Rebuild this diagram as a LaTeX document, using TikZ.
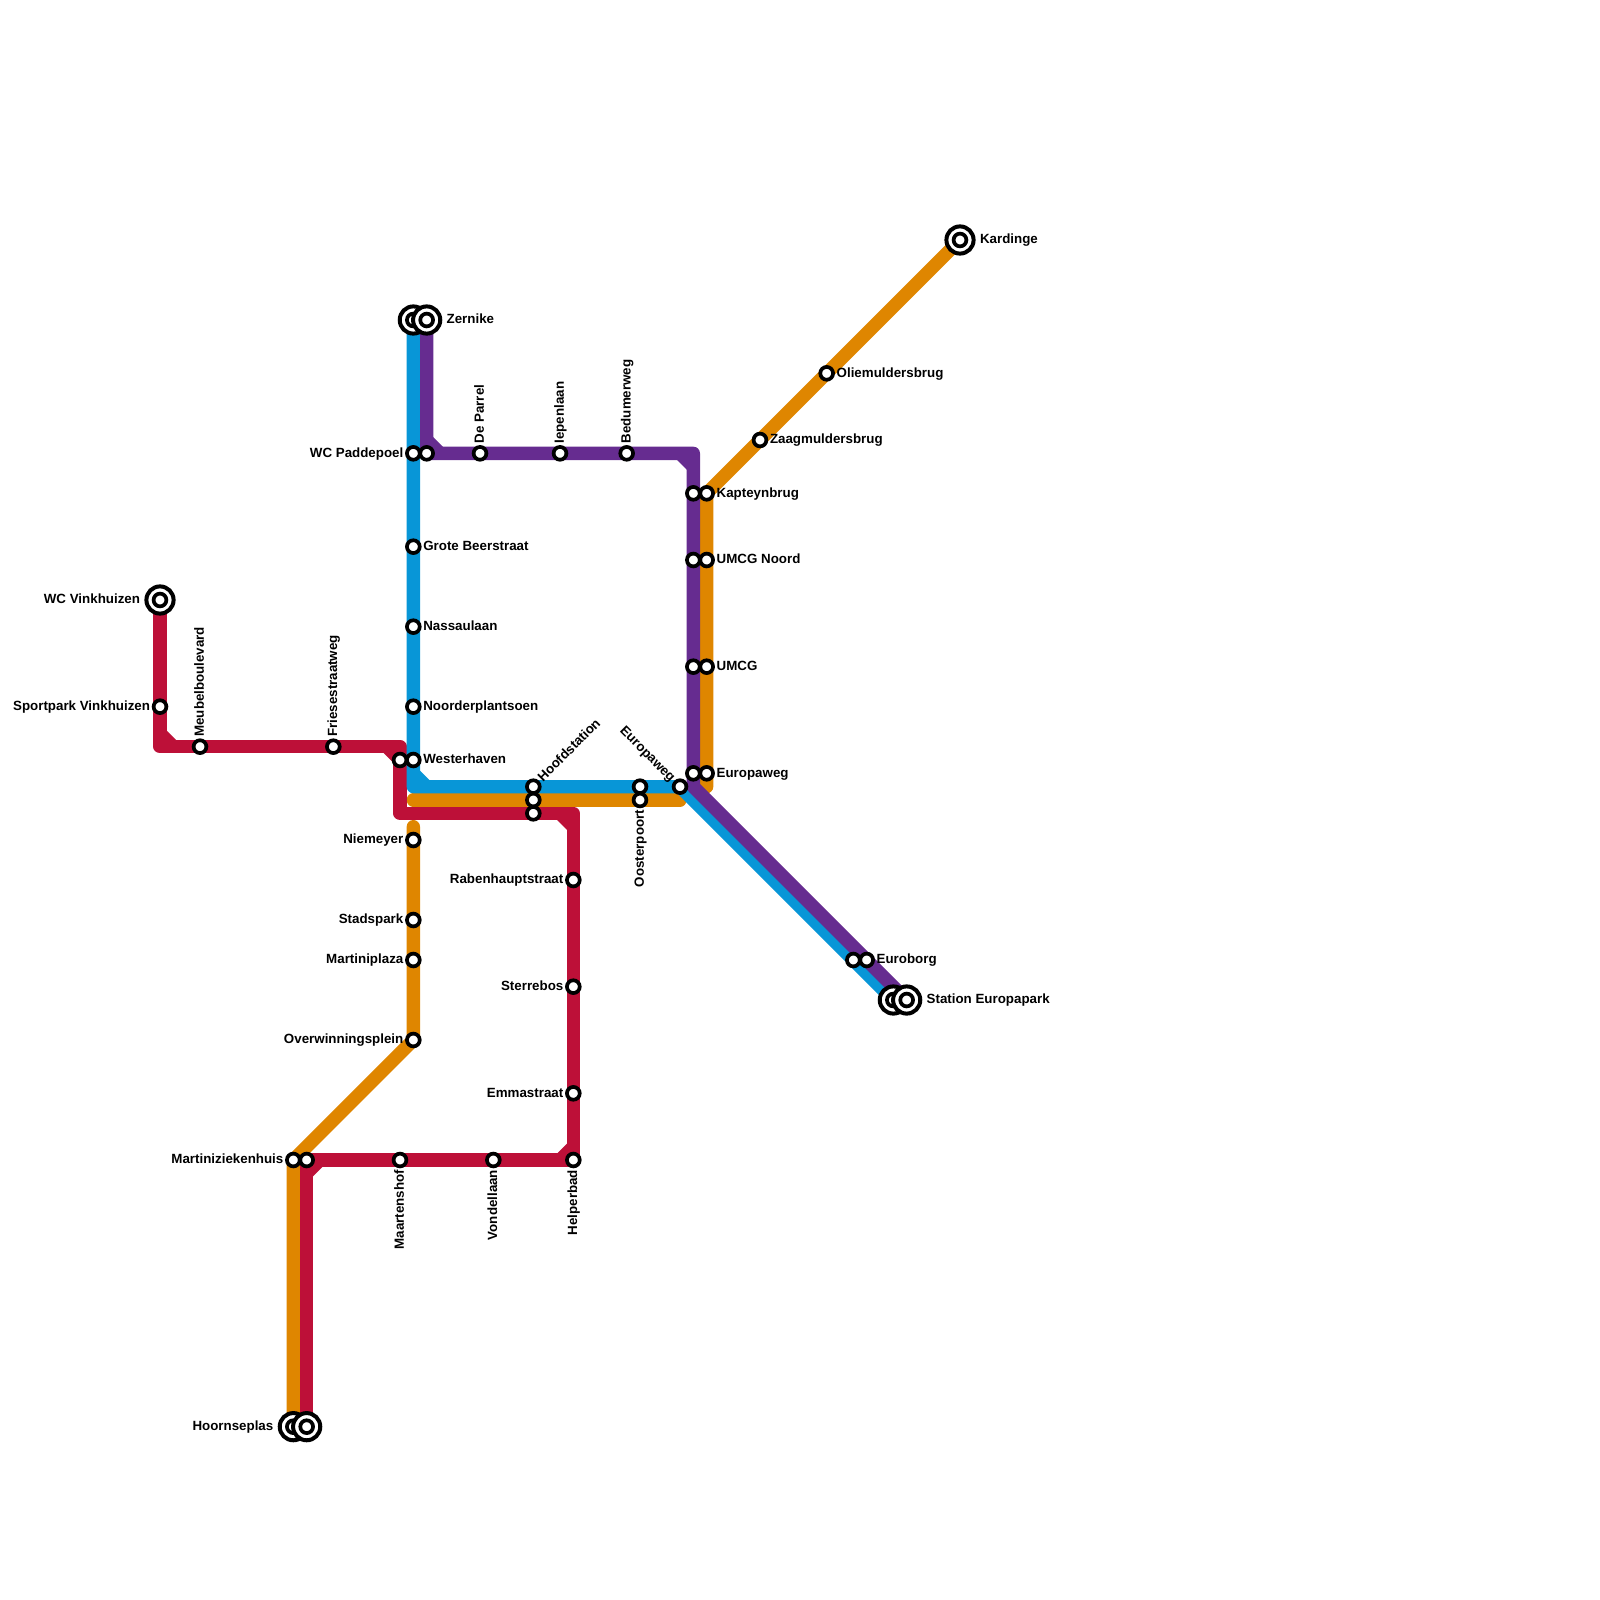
\documentclass[tikz,border=0pt]{standalone}
\usepackage{fontspec}
\setmainfont{Liberation Sans}
\definecolor{lblue}{HTML}{0896D7}
\definecolor{lpurple}{HTML}{662C90}
\definecolor{lorange}{HTML}{DF8600}
\definecolor{lred}{HTML}{BD1038}
\pgfdeclarelayer{lines}
\pgfsetlayers{lines,main}
\tikzset{
  stn/.style={circle,draw=black,fill=white,line width=1.85pt,minimum size=6.4pt,inner sep=0pt,outer sep=0pt},
  ring/.style={circle,draw=black,fill=white,line width=2pt,minimum size=13.6pt,inner sep=0pt,outer sep=0pt},
  lab/.style={inner sep=0pt,outer sep=0pt,font=\bfseries\fontsize{6.67pt}{8pt}\selectfont,text height=3.9pt,text depth=0pt,text=black},
  metro/.style={line width=6.667pt,line cap=round,line join=round},
  chamfer/.style={line width=6.667pt,line cap=butt}
}
\newcommand{\st}[3]{\node[stn] (#1) at (#2,#3) {};}
\newcommand{\term}[3]{\node[ring] (#1-r) at (#2,#3) {};\node[stn] (#1) at (#2,#3) {};}
\newcommand{\lE}[3][5pt]{\node[lab,anchor=west] (#2-l) at ([xshift=#1]#2.center) {#3};}
\newcommand{\lW}[3][5pt]{\node[lab,anchor=east] (#2-l) at ([xshift=-#1]#2.center) {#3};}
\newcommand{\lN}[2]{\node[lab,anchor=west,rotate=90] (#1-l) at ([yshift=5pt]#1.center) {#2};}
\newcommand{\lS}[2]{\node[lab,anchor=east,rotate=90] (#1-l) at ([yshift=-5pt]#1.center) {#2};}
\begin{document}
\begin{tikzpicture}[x=0.5pt,y=-0.5pt]
\useasboundingbox (0,0) rectangle (1600,1600);
% stations: red
\term{vink}{160}{600}\lW[10pt]{vink}{WC Vinkhuizen}
\st{sport}{160}{706.67}\lW{sport}{Sportpark Vinkhuizen}
\st{meubel}{200}{746.67}\lN{meubel}{Meubelboulevard}
\st{fries}{333.33}{746.67}\lN{fries}{Friesestraatweg}
\st{westR}{400}{760}
\st{hoofdR}{533.33}{813.33}
\st{raben}{573.33}{880}\lW{raben}{Rabenhauptstraat}
\st{sterre}{573.33}{986.67}\lW{sterre}{Sterrebos}
\st{emma}{573.33}{1093.33}\lW{emma}{Emmastraat}
\st{helper}{573.33}{1160}\lS{helper}{Helperbad}
\st{vondel}{493.33}{1160}\lS{vondel}{Vondellaan}
\st{maarten}{400}{1160}\lS{maarten}{Maartenshof}
\st{mzhR}{306.67}{1160}
% stations: blue
\term{zernB}{413.33}{320}
\st{paddeB}{413.33}{453.33}\lW{paddeB}{WC Paddepoel}
\st{grote}{413.33}{546.67}\lE{grote}{Grote Beerstraat}
\st{nassau}{413.33}{626.67}\lE{nassau}{Nassaulaan}
\st{noorder}{413.33}{706.67}\lE{noorder}{Noorderplantsoen}
\st{westB}{413.33}{760}\lE{westB}{Westerhaven}
\st{hoofdB}{533.33}{786.67}
\node[lab,anchor=west,rotate=45] (hoofdB-l) at ([xshift=3.5pt,yshift=3.5pt]hoofdB.center) {Hoofdstation};
\st{oostB}{640}{786.67}
\st{eurB}{680}{786.67}
\node[lab,anchor=east,rotate=-45] (eurB-l) at ([xshift=-3.5pt,yshift=3.5pt]eurB.center) {Europaweg};
\st{euroB}{853.33}{960}
\term{parkB}{893.33}{1000}
% stations: purple
\term{zernP}{426.67}{320}\lE[10pt]{zernP}{Zernike}
\st{paddeP}{426.67}{453.33}
\st{parrel}{480}{453.33}\lN{parrel}{De Parrel}
\st{iepen}{560}{453.33}\lN{iepen}{Iepenlaan}
\st{bedum}{626.67}{453.33}\lN{bedum}{Bedumerweg}
\st{kapP}{693.33}{493.33}
\st{umcgnP}{693.33}{560}
\st{umcgP}{693.33}{666.67}
\st{eurP}{693.33}{773.33}
\st{euroP}{866.67}{960}\lE{euroP}{Euroborg}
\term{parkP}{906.67}{1000}\lE[10pt]{parkP}{Station Europapark}
% stations: orange
\term{kard}{960}{240}\lE[10pt]{kard}{Kardinge}
\st{olie}{826.67}{373.33}\lE{olie}{Oliemuldersbrug}
\st{zaag}{760}{440}\lE{zaag}{Zaagmuldersbrug}
\st{kapO}{706.67}{493.33}\lE{kapO}{Kapteynbrug}
\st{umcgnO}{706.67}{560}\lE{umcgnO}{UMCG Noord}
\st{umcgO}{706.67}{666.67}\lE{umcgO}{UMCG}
\st{eurO}{706.67}{773.33}\lE{eurO}{Europaweg}
\st{oostO}{640}{800}\lS{oostO}{Oosterpoort}
\st{hoofdO}{533.33}{800}
\st{niem}{413.33}{840}\lW{niem}{Niemeyer}
\st{stad}{413.33}{920}\lW{stad}{Stadspark}
\st{marti}{413.33}{960}\lW{marti}{Martiniplaza}
\st{over}{413.33}{1040}\lW{over}{Overwinningsplein}
\st{mzhO}{293.33}{1160}\lW{mzhO}{Martiniziekenhuis}
\term{hoornO}{293.33}{1426.67}\lW[10pt]{hoornO}{Hoornseplas}
\term{hoornR}{306.67}{1426.67}
% bends
\coordinate (r1) at (160,746.67);
\coordinate (r2) at (400,746.67);
\coordinate (r3) at (400,813.33);
\coordinate (r4) at (573.33,813.33);
\coordinate (r5) at (306.67,1160);
\coordinate (b1) at (413.33,786.67);
\coordinate (p1) at (426.67,453.33);
\coordinate (p2) at (693.33,453.33);
\coordinate (p3) at (693.33,786.67);
\coordinate (o1) at (706.67,786.67);
\coordinate (o2) at (680,800);
\coordinate (o3) at (413.33,800);
\coordinate (o4) at (413.33,826.67);
\begin{pgfonlayer}{lines}
% orange
\draw[metro,lorange] (kard.center) -- (kapO.center) -- (o1);
\draw[metro,lorange] (o2) -- (o3);
\draw[metro,lorange] (o4) -- (over.center) -- (mzhO.center) -- (hoornO.center);
% red
\draw[metro,lred] (vink.center) -- (r1) -- (r2) -- (r3) -- (r4) -- (helper.center) -- (r5) -- (hoornR.center);
\draw[chamfer,lred] (160,733.33) -- (173.33,746.67);
\draw[chamfer,lred] (386.67,746.67) -- (400,760);
\draw[chamfer,lred] (560,813.33) -- (573.33,826.67);
\draw[chamfer,lred] (560,1160) -- (573.33,1146.67);
\draw[chamfer,lred] (306.67,1173.33) -- (320,1160);
% blue
\draw[metro,lblue] (zernB.center) -- (b1) -- (eurB.center) -- (parkB.center);
\draw[chamfer,lblue] (413.33,773.33) -- (426.67,786.67);
% purple
\draw[metro,lpurple] (zernP.center) -- (p1) -- (p2) -- (p3) -- (parkP.center);
\draw[chamfer,lpurple] (426.67,440) -- (440,453.33);
\draw[chamfer,lpurple] (680,453.33) -- (693.33,466.67);
\end{pgfonlayer}
\end{tikzpicture}
\end{document}
